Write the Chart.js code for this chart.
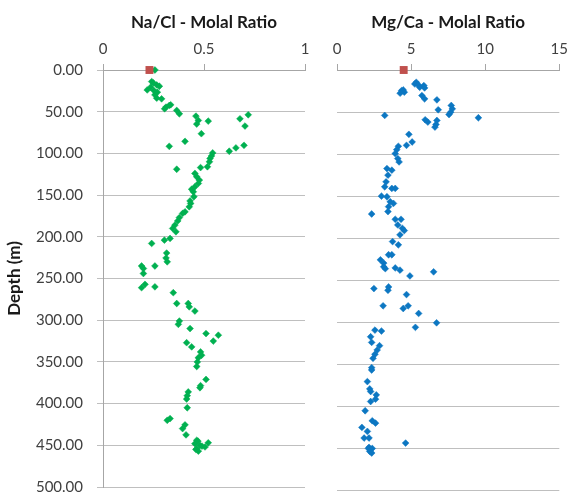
<!DOCTYPE html>
<html>
<head>
<meta charset="utf-8">
<script src="https://cdn.jsdelivr.net/npm/chart.js@4"></script>
<style>
  html, body { margin: 0; padding: 0; background: #fff; overflow: hidden; }
  #wrap { position: relative; width: 574px; height: 496px; }
  canvas { position: absolute; top: 0; }
  #left { left: 0; }
  #right { left: 320px; }
</style>
</head>
<body>
<div id="wrap">
  <canvas id="left" width="320" height="510"></canvas>
  <canvas id="right" width="254" height="510"></canvas>
</div>
<script>
// surface sample (red squares)
const surfaceDepth = [0];
const surfaceNaCl = [0.23];
const surfaceMgCa = [4.5];

// Na/Cl molal ratio vs depth (m)
const naclDepth = [0, 13.9, 15.5, 17.9, 19.5, 20.7, 23.9, 24.7, 26.6, 29.8, 33.8, 34.6, 41.7, 42.5, 44.5, 46.5, 48.5,
  52.5, 53.7, 55.3, 58.5, 60.5, 61.3, 64.8, 67.2, 76.4, 85.5, 90.3, 91.5, 93.4, 97.4, 99.4, 103, 106, 110, 116, 117,
  119, 124, 128, 132, 136, 140, 143, 146, 152, 157, 160, 164, 170, 172, 177, 181, 186, 190, 194, 202, 204, 208, 219.5,
  225.5, 230, 235, 235, 238, 244, 257, 260, 261, 267, 280, 280, 284, 289, 301, 305, 310, 316, 318, 325, 327, 332, 338,
  342, 345, 350, 355.5, 371, 378.5, 381, 386, 390.5, 394.5, 405, 418, 420, 425.5, 430, 437.5, 444, 445, 447, 448, 450,
  451, 452, 454, 455, 457];
const naclRatio = [0.257, 0.241, 0.249, 0.266, 0.279, 0.236, 0.219, 0.252, 0.269, 0.257, 0.266, 0.290, 0.335, 0.328,
  0.312, 0.305, 0.365, 0.378, 0.719, 0.460, 0.678, 0.472, 0.521, 0.464, 0.703, 0.487, 0.406, 0.698, 0.328, 0.658, 0.625,
  0.543, 0.537, 0.530, 0.527, 0.517, 0.483, 0.365, 0.455, 0.464, 0.477, 0.472, 0.455, 0.439, 0.447, 0.450, 0.431, 0.434,
  0.427, 0.406, 0.394, 0.378, 0.370, 0.356, 0.345, 0.361, 0.332, 0.304, 0.241, 0.315, 0.312, 0.318, 0.191, 0.257, 0.200,
  0.200, 0.208, 0.257, 0.191, 0.348, 0.365, 0.422, 0.427, 0.455, 0.378, 0.373, 0.431, 0.510, 0.571, 0.546, 0.414, 0.439,
  0.483, 0.488, 0.472, 0.467, 0.464, 0.510, 0.483, 0.480, 0.422, 0.417, 0.414, 0.417, 0.332, 0.318, 0.406, 0.394, 0.411,
  0.464, 0.470, 0.521, 0.455, 0.480, 0.490, 0.505, 0.464, 0.460, 0.472];

// Mg/Ca molal ratio vs depth (m)
const mgcaDepth = [14.6, 16.6, 17.4, 18.5, 20.5, 21.3, 23.7, 24.5, 26.4, 27.6, 30.4, 34.3, 35.5, 42.2, 46.2, 47.3, 50.1,
  52.9, 54.0, 56.8, 59.2, 60.0, 61.9, 64.7, 67.9, 76.5, 85.6, 89.6, 90.7, 94.7, 99.4, 105.3, 109.3, 117.2, 119.1, 125,
  133, 138.9, 140.8, 140.8, 150, 150.7, 156.6, 158.6, 162.5, 168.4, 171.2, 177.5, 177.5, 184.2, 188.2, 190.9, 196, 204,
  207.9, 219.7, 219.7, 225.7, 229.6, 234, 236.2, 235.4, 238, 240, 244.9, 257.9, 259.9, 261.9, 267, 280.4, 280.4, 283.6,
  289.5, 300.6, 306, 309.3, 310.4, 317.2, 323.9, 327.8, 333, 338, 342.8, 353.9, 356.7, 370.5, 379.2, 382.3, 386.3,
  391.4, 394.2, 405.2, 417.1, 419.9, 425, 429.7, 437.6, 437.6, 443.6, 448.7, 450, 450, 451.5, 453.5, 455.4];
const mgcaRatio = [5.35, 5.25, 5.47, 5.86, 5.58, 5.91, 4.47, 4.36, 4.54, 4.26, 5.73, 5.91, 6.74, 7.71, 7.78, 6.83, 7.67,
  7.56, 3.22, 9.54, 5.95, 6.74, 6.13, 6.68, 6.61, 4.85, 5.07, 4.69, 4.14, 4.03, 3.93, 4.10, 4.19, 3.37, 3.70, 3.44,
  3.31, 3.22, 3.70, 3.93, 3.00, 3.37, 3.59, 3.81, 3.48, 3.44, 2.34, 3.93, 4.32, 4.10, 4.41, 4.54, 4.25, 3.75,
  4.14, 3.70, 3.48, 2.93, 3.15, 3.15, 3.26, 3.93, 4.25, 6.52, 4.92, 3.48, 2.49, 3.44, 4.69, 3.11, 4.80, 4.47,
  5.51, 6.72, 5.29, 2.56, 3.00, 2.27, 2.34, 2.87, 2.71, 2.56, 2.43, 2.34, 2.34, 2.05, 2.21, 2.27, 2.65,
  2.60, 2.27, 1.90, 2.38, 2.60, 1.68, 2.05, 1.83, 2.16, 4.63, 2.16, 2.12, 2.38, 2.27, 2.21, 2.34];

const depthTicks = [0, 50, 100, 150, 200, 250, 300, 350, 400, 450, 500];

Chart.defaults.font.family = 'Lato, "Liberation Sans", sans-serif';
Chart.defaults.animation = false;

const tickFont = { size: 15 };
const titleFont = { size: 17, weight: 'bold' };
const gridColor = '#BFBFBF';
const axisColor = '#A6A6A6';

function points(xs, ys) {
  return xs.map((x, i) => ({ x: x, y: ys[i] }));
}

function xAxis(title, max, step) {
  return {
    type: 'linear',
    position: 'top',
    min: 0, max: max,
    ticks: { stepSize: step, font: tickFont, color: '#404040', padding: 6, callback: v => String(v) },
    grid: { drawOnChartArea: false, drawTicks: true, tickLength: 6, color: axisColor },
    border: { color: axisColor },
    title: { display: true, text: title, font: titleFont, color: '#1a1a1a', padding: { top: 12, bottom: 4 } },
    afterFit: s => { s.height = 70; }
  };
}

const commonPlugins = { legend: { display: false }, tooltip: { enabled: false } };

new Chart(document.getElementById('left'), {
  type: 'scatter',
  data: {
    datasets: [
      { data: points(surfaceNaCl, surfaceDepth), pointStyle: 'rect', pointRadius: 5.6, clip: false,
        backgroundColor: '#C0504D', borderColor: '#C0504D', borderWidth: 0 },
      { data: points(naclRatio, naclDepth), pointStyle: 'rectRot', pointRadius: 3.4, clip: false,
        backgroundColor: '#00B050', borderColor: '#00B050', borderWidth: 0.5 }
    ]
  },
  options: {
    responsive: false,
    layout: { padding: { left: 0, right: 15, top: 0, bottom: 19.5 } },
    plugins: commonPlugins,
    scales: {
      x: xAxis('Na/Cl - Molal Ratio', 1, 0.5),
      y: {
        type: 'linear', reverse: true, min: 0, max: 500,
        afterBuildTicks: s => { s.ticks = depthTicks.map(v => ({ value: v })); },
        ticks: { font: tickFont, color: '#404040', padding: 14, callback: v => Number(v).toFixed(2) },
        grid: { color: gridColor, tickLength: 6 },
        border: { color: axisColor },
        title: { display: true, text: 'Depth (m)', font: titleFont, color: '#1a1a1a' },
        afterFit: s => { s.width = 103; }
      }
    }
  }
});

new Chart(document.getElementById('right'), {
  type: 'scatter',
  data: {
    datasets: [
      { data: points(surfaceMgCa, surfaceDepth), pointStyle: 'rect', pointRadius: 5.6, clip: false,
        backgroundColor: '#C0504D', borderColor: '#C0504D', borderWidth: 0 },
      { data: points(mgcaRatio, mgcaDepth), pointStyle: 'rectRot', pointRadius: 3.4, clip: false,
        backgroundColor: '#0C77C2', borderColor: '#0C77C2', borderWidth: 0.5 }
    ]
  },
  options: {
    responsive: false,
    layout: { padding: { left: 0, right: 10, top: 0, bottom: 19.5 } },
    plugins: commonPlugins,
    scales: {
      x: xAxis('Mg/Ca - Molal Ratio', 15, 5),
      y: {
        type: 'linear', reverse: true, min: 0, max: 500,
        afterBuildTicks: s => { s.ticks = depthTicks.map(v => ({ value: v })); },
        ticks: { display: false },
        grid: { color: gridColor, drawTicks: false },
        border: { display: false },
        afterFit: s => { s.width = 17; }
      }
    }
  }
});
</script>
</body>
</html>
